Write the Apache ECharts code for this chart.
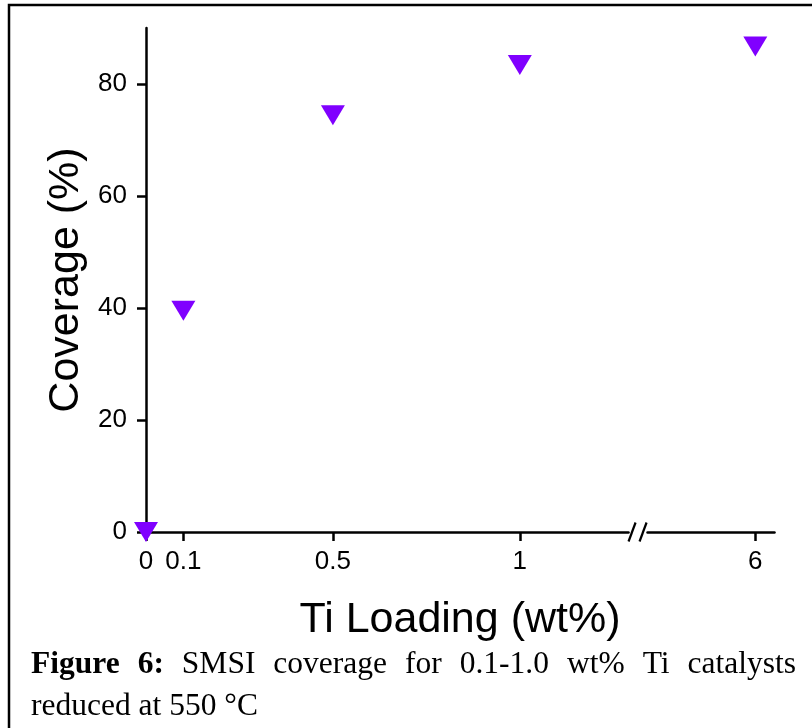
<!DOCTYPE html>
<html><head><meta charset="utf-8">
<script src="https://cdn.jsdelivr.net/npm/echarts@6.0.0/dist/echarts.min.js"></script>
<style>html,body{margin:0;padding:0;background:#fff}#c{width:812px;height:728px}</style>
</head><body><div id="c"></div>
<script>
// ---- data ----
const xValues = [0, 0.1, 0.5, 1, 6];
const coverage = [0, 39.5, 74.4, 83.4, 86.7];
const xTickValues = [0, 0.1, 0.5, 1, 6];
const xTickLabels = ['0', '0.1', '0.5', '1', '6'];
const yTickValues = [0, 20, 40, 60, 80];
const xBreak = { start: 1.29, end: 5.71, gap: 0.05 };
const xTitle = 'Ti Loading (wt%)';
const yTitle = 'Coverage (%)';
const captionWords1 = [['Figure', true], ['6:', true], ['SMSI', false], ['coverage', false], ['for', false], ['0.1-1.0', false], ['wt%', false], ['Ti', false], ['catalysts', false]];
const captionLine2 = 'reduced at 550 °C';

// ---- chart ----
const chart = echarts.init(document.getElementById('c'), null, { renderer: 'canvas' });
const sans = '"Liberation Sans", Arial, sans-serif';
const serif = '"Liberation Serif", "Times New Roman", serif';
const capSize = 31.5;

const option = {
  backgroundColor: '#fff',
  animation: false,
  grid: { left: 146, right: 38, top: 28, bottom: 196, containLabel: false },
  xAxis: {
    type: 'value',
    min: 0, max: 6.05,
    breaks: [xBreak],
    breakArea: { show: false },
    splitLine: { show: false },
    axisLine: { lineStyle: { color: '#000', width: 2.5 } },
    axisTick: { show: true, inside: false, length: 9, lineStyle: { color: '#000', width: 2.5 }, customValues: xTickValues },
    axisLabel: {
      color: '#000', fontSize: 26, fontFamily: sans, margin: 17,
      customValues: xTickValues,
      formatter: v => { const i = xTickValues.indexOf(v); return i >= 0 ? xTickLabels[i] : ''; }
    },
    name: xTitle, nameLocation: 'middle', nameGap: 67,
    nameTextStyle: { color: '#000', fontSize: 43, fontFamily: sans }
  },
  yAxis: {
    type: 'value', min: 0, max: 90, interval: 20,
    splitLine: { show: false },
    axisLine: { show: true, lineStyle: { color: '#000', width: 2.5 } },
    axisTick: { show: true, inside: false, length: 9, lineStyle: { color: '#000', width: 2.5 }, customValues: yTickValues },
    axisLabel: { color: '#000', fontSize: 26, fontFamily: sans, margin: 19, customValues: yTickValues },
    name: yTitle, nameLocation: 'middle', nameGap: 45, nameRotate: 90,
    nameTextStyle: { color: '#000', fontSize: 43, fontFamily: sans }
  },
  series: [{
    type: 'scatter',
    data: xValues.map((x, i) => [x, coverage[i]]),
    symbol: 'triangle', symbolRotate: 180, symbolSize: [24, 20],
    itemStyle: { color: '#8000FF', opacity: 1 },
    clip: false, z: 5
  }]
};
chart.setOption(option);

// ---- decorations: border, axis-break slashes, caption ----
const p1 = chart.convertToPixel({ xAxisIndex: 0 }, xBreak.start);
const p2 = chart.convertToPixel({ xAxisIndex: 0 }, xBreak.end);
const py = chart.convertToPixel({ yAxisIndex: 0 }, 0);
const mx = (p1 + p2) / 2;

const ctx = document.createElement('canvas').getContext('2d');
function w(text, bold) { ctx.font = (bold ? 'bold ' : '') + capSize + 'px "Liberation Serif"'; return ctx.measureText(text).width; }
const capStart = 31, capEnd = 796;
const widths = captionWords1.map(([t, b]) => w(t, b));
const totalW = widths.reduce((a, b) => a + b, 0);
const gapW = (capEnd - capStart - totalW) / (captionWords1.length - 1);
let cx = capStart;
const capEls = captionWords1.map(([t, b], i) => {
  const el = { type: 'text', x: cx, y: 665, style: { text: t, font: (b ? 'bold ' : '') + capSize + 'px ' + serif, fill: '#000', textAlign: 'left', textVerticalAlign: 'middle' } };
  cx += widths[i] + gapW;
  return el;
});
capEls.push({ type: 'text', x: capStart, y: 707, style: { text: captionLine2, font: capSize + 'px ' + serif, fill: '#000', textAlign: 'left', textVerticalAlign: 'middle' } });

chart.setOption({
  graphic: [
    { type: 'rect', shape: { x: 9, y: 5, width: 900, height: 900 }, style: { fill: 'none', stroke: '#000', lineWidth: 2.5 }, z: 10 },
    { type: 'rect', shape: { x: mx - 5, y: py - 2, width: 10, height: 4 }, style: { fill: '#fff' }, z: 10 },
    { type: 'line', shape: { x1: mx - 9, y1: py + 9.5, x2: mx - 2, y2: py - 9.5 }, style: { stroke: '#000', lineWidth: 2.2 }, z: 11 },
    { type: 'line', shape: { x1: mx + 2, y1: py + 9.5, x2: mx + 9, y2: py - 9.5 }, style: { stroke: '#000', lineWidth: 2.2 }, z: 11 }
  ].concat(capEls)
});
</script>
</body></html>
